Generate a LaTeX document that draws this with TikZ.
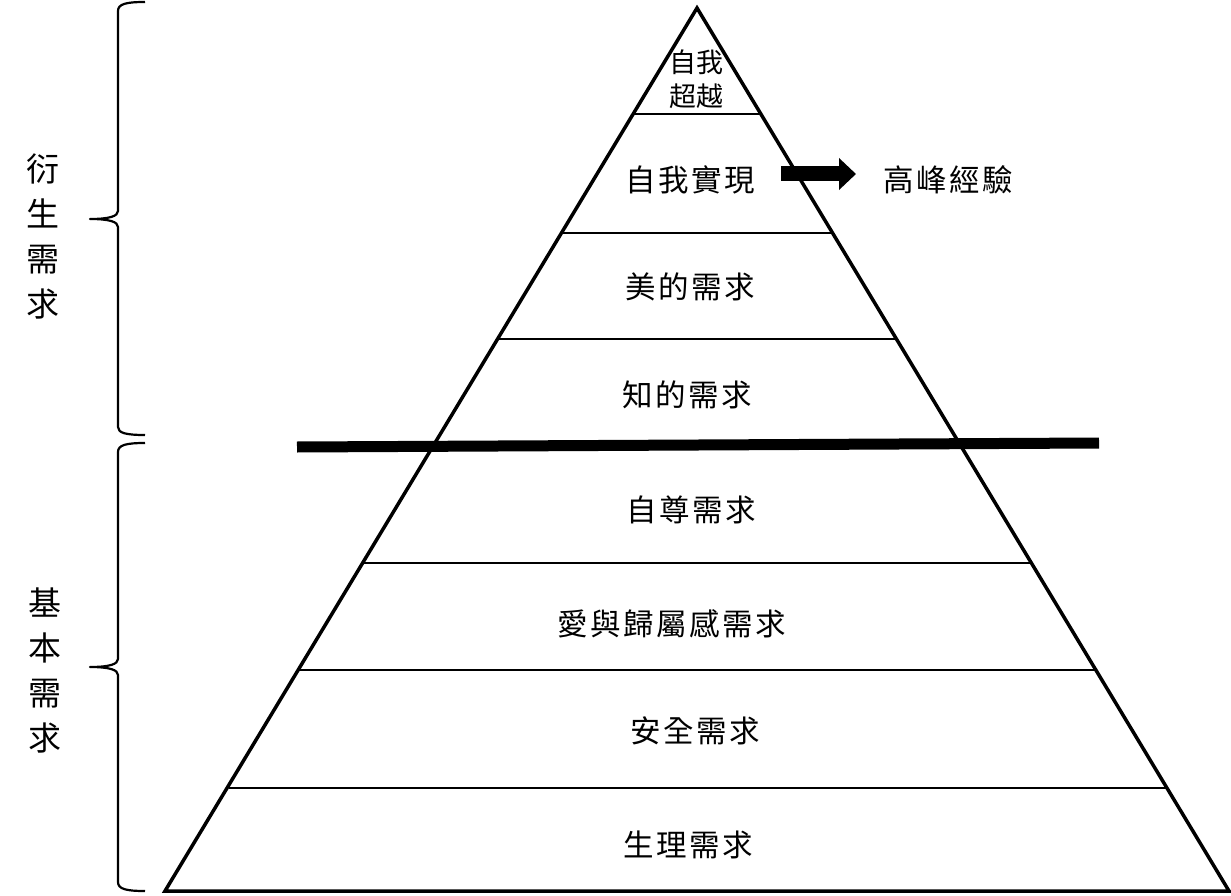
\documentclass[tikz,border=0pt]{standalone}
\usepackage{fontspec}
\usetikzlibrary{arrows.meta}
\newfontfamily\cjk[LetterSpace=8]{Noto Sans CJK TC}
\newfontfamily\cjktight{Noto Sans CJK TC}
\begin{document}
\begin{tikzpicture}[x=1pt,y=-1pt,
  level/.style={inner sep=0pt,font=\cjk\fontsize{30.5}{34}\selectfont},
  side/.style={inner sep=0pt,align=center,font=\cjktight\fontsize{33}{45}\selectfont},
  divider/.style={line width=2pt},
  bracepath/.style={line width=2.2pt,line join=round}]
\useasboundingbox (0,0) rectangle (1231,896);
% pyramid
\coordinate (apex) at (697,8);
\coordinate (bl) at (165,891);
\coordinate (br) at (1229,891);
\draw[line width=3.5pt,line join=miter] (apex) -- (bl) -- (br) -- cycle;
% level dividers
\coordinate (l1a) at (633,114); \coordinate (l1b) at (761,114);
\coordinate (l2a) at (561,233); \coordinate (l2b) at (833,233);
\coordinate (l3a) at (498,339); \coordinate (l3b) at (896,339);
\coordinate (l4a) at (363,563); \coordinate (l4b) at (1031,563);
\coordinate (l5a) at (298,670); \coordinate (l5b) at (1096,670);
\coordinate (l6a) at (229,788); \coordinate (l6b) at (1167,788);
\draw[divider] (l1a) -- (l1b);
\draw[divider] (l2a) -- (l2b);
\draw[divider] (l3a) -- (l3b);
\draw[divider] (l4a) -- (l4b);
\draw[divider] (l5a) -- (l5b);
\draw[divider] (l6a) -- (l6b);
% thick separator
\coordinate (sepL) at (297,447);
\coordinate (sepR) at (1099,443);
\draw[line width=11pt] (sepL) -- (sepR);
% level labels
\node[inner sep=0pt,align=center,font=\cjktight\fontsize{27}{34}\selectfont] (top) at (696,79) {自我\\超越};
\node[level] (sa) at (690,180) {自我實現};
\node[level] (peak) at (948,180) {高峰經驗};
\node[level] (beauty) at (690,287) {美的需求};
\node[level] (know) at (687,395) {知的需求};
\node[level] (esteem) at (691,510) {自尊需求};
\node[level] (love) at (672,624) {愛與歸屬感需求};
\node[level] (safe) at (695,731) {安全需求};
\node[level] (phys) at (688,845) {生理需求};
% arrow
\coordinate (arrS) at (781,174);
\coordinate (arrE) at (856,174);
\draw[line width=15pt,-{Triangle[length=17pt,width=31pt]}] (arrS) -- (arrE);
% side labels
\node[side] (derived) at (43,236) {衍\\生\\需\\求};
\node[side] (basic) at (45,670) {基\\本\\需\\求};
% braces
\draw[bracepath] (145,2) .. controls (126,2) and (118,4) .. (118,11) -- (118,211)
  .. controls (118,216) and (110,219) .. (90,219)
  .. controls (110,219) and (118,222) .. (118,227) -- (118,427)
  .. controls (118,433) and (126,435) .. (145,435);
\draw[bracepath] (145,443) .. controls (126,443) and (118,445) .. (118,452) -- (118,659)
  .. controls (118,664) and (110,667) .. (90,667)
  .. controls (110,667) and (118,670) .. (118,675) -- (118,882)
  .. controls (118,889) and (126,891) .. (145,891);
\end{tikzpicture}
\end{document}
